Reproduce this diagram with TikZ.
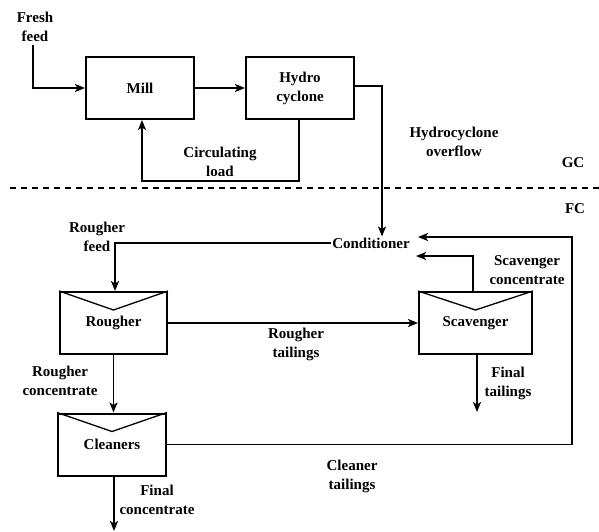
\documentclass[tikz,border=0pt]{standalone}
\usepackage{fontspec}
\setmainfont{LiberationSerif}[Extension=.ttf, UprightFont=*-Regular, BoldFont=*-Bold]
\usepackage{tikz}
\usetikzlibrary{arrows.meta,positioning,calc}

\begin{document}
\begin{tikzpicture}[x=1pt, y=-1pt,
    every node/.style={font=\fontsize{15}{19}\selectfont\bfseries, align=center},
    >={Stealth[length=10pt,width=8pt,inset=2.5pt]},
    flow/.style={line width=1.7pt},
    unit/.style={draw, line width=2pt, minimum height=62pt, inner sep=0pt}]
  \useasboundingbox (0,0) rectangle (599,532);
  % grinding circuit
  \foreach \n/\x/\t in {M/140/Mill, H/300/{Hydro\\cyclone}} {
    \node[unit, minimum width=108pt] (\n) at (\x,88) {\t};
  }
  % flotation cells
  \foreach \n/\x/\y/\w/\t in {R/113.5/323/107/Rougher, S/475.5/323/113/Scavenger, C/112/444.5/108/Cleaners} {
    \node[unit, minimum width=\w pt] (\n) at (\x,\y) {\t};
    \draw[line width=1.3pt] (\n.north west) -- ($(\n.north)+(0,19)$) -- (\n.north east);
  }
  \node[inner sep=1pt] (cond) at (371,243) {Conditioner};
  % stream labels
  \node (ff) at (35,27) {Fresh\\feed};
  \foreach \x/\y/\t in {220/162/{Circulating\\load}, 454/142/{Hydrocyclone\\overflow},
      573/163/GC, 575/209/FC, 97/237/{Rougher\\feed}, 527/270/{Scavenger\\concentrate},
      296/344/{Rougher\\tailings}, 60/381/{Rougher\\concentrate}, 508/383/{Final\\tailings},
      352/476/{Cleaner\\tailings}, 157/500/{Final\\concentrate}} {
    \node at (\x,\y) {\t};
  }
  \draw[line width=1.2pt, dash pattern=on 6pt off 5pt] (10,188) -- (599,188);
  % free ends
  \coordinate (retA) at (418,237);
  \coordinate (retB) at (416,256);
  \coordinate (ret) at (572,237);
  \coordinate (ftail) at (477,412);
  \coordinate (fconc) at (114,531);
  % streams
  \draw[flow, ->] ([xshift=-2pt]ff.south) |- (M.west);
  \draw[flow, ->] (M.east) -- (H.west);
  \draw[flow, ->] ([xshift=-1pt]H.south) -- ++(0,61) -| ([xshift=2pt]M.south);
  \draw[flow, ->] ([yshift=2pt]H.east) -| ([xshift=11pt]cond.north);
  \draw[flow, ->] (cond.west) -| ([xshift=1.5pt]R.north);
  \draw[flow, ->] (R.east) -- (S.west);
  \draw[flow, ->] ([xshift=-2.5pt]S.north) |- (retB);
  \draw[flow, ->] ([xshift=1.5pt]S.south) -- (ftail);
  \draw[flow, ->] (R.south) -- (R.south |- C.north);
  \draw[flow, ->] (C.east) -| (ret) -- (retA);
  \draw[flow, ->] ([xshift=2pt]C.south) -- (fconc);
\end{tikzpicture}
\end{document}
